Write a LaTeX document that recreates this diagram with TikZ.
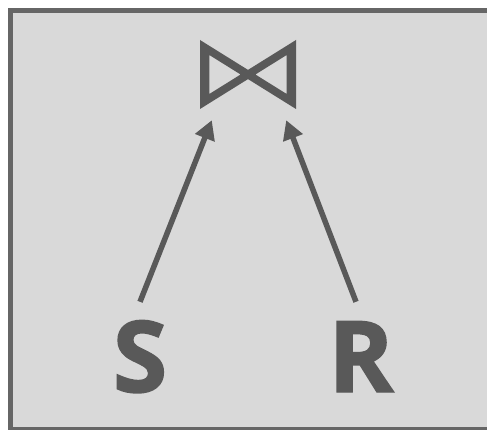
\documentclass[tikz,border=0pt]{standalone}
\usepackage{fontspec}
\setsansfont{Open Sans}
\newfontfamily\relfont[FakeBold=1.5]{Open Sans Bold}
\usepackage{xcolor}
\usepackage{tikz}
\usetikzlibrary{positioning,arrows.meta,calc}
\definecolor{cink}{RGB}{89,89,89}
\definecolor{cframe}{RGB}{102,102,102}
\definecolor{cpanel}{RGB}{217,217,217}

\begin{document}
\begin{tikzpicture}[
          x=1pt, y=-1pt,
          every node/.style={font=\sffamily},
          rel/.style={text=cink, inner sep=0pt, anchor=base,
          font=\fontsize{99}{99}\relfont,
          text height=71pt, text depth=0pt},
          tie/.style={inner sep=0pt, minimum width=96pt, minimum height=69pt},
          arr/.style={-{Triangle[length=19pt,width=20pt]}, line width=5.5pt, draw=cink},
        ]

          % ── Panel ────────────────────────────────────────────
          \useasboundingbox (0,0) rectangle (487,430);
          \fill[white] (0,0) rectangle (487,430);
          \clip (0,0) rectangle (487,430);
          \draw[line width=5pt, draw=cframe, fill=cpanel]
            (10.5,10.5) rectangle (600,429.5);

          % ── Join operator ────────────────────────────────────
          \node[tie] (join) at (248,74.5) {};
          \begin{scope}[shift={(join.center)}]
            \fill[cink, even odd rule]
              (-48,-34.5) -- (0,-4.6) -- (48,-34.5) -- (48,34.5)
              -- (0,4.6) -- (-48,34.5) -- cycle
              (-38.7,-19.5) -- (-7.4,0) -- (-38.7,19.5) -- cycle
              (38.7,-19.5) -- (7.4,0) -- (38.7,19.5) -- cycle;
          \end{scope}

          % ── Relations ────────────────────────────────────────
          \node[rel] (S) at (140,392) {S};
          \node[rel] (R) at (361,392) {R};

          % ── Edges ────────────────────────────────────────────
          \coordinate (jL) at ([shift={(12pt,-11pt)}]join.south west);
          \coordinate (jR) at ([shift={(-10pt,-11pt)}]join.south east);
          \draw[arr] ([yshift=19pt]S.north) -- (jL);
          \draw[arr] ([xshift=-5pt,yshift=19pt]R.north) -- (jR);

        \end{tikzpicture}
\end{document}
